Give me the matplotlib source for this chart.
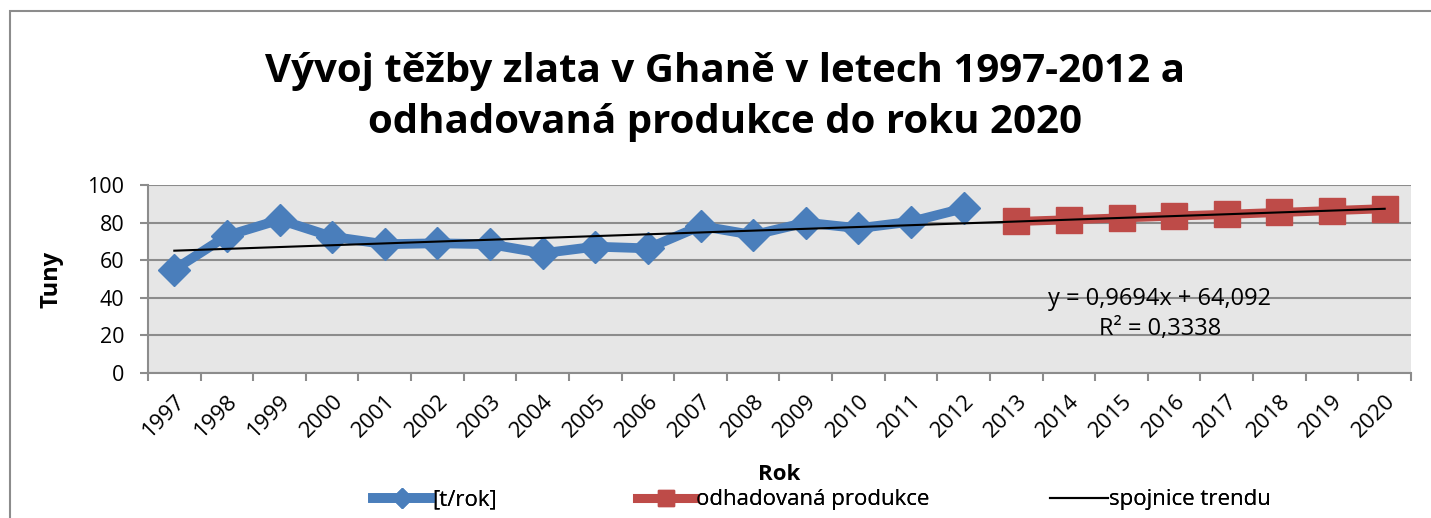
import matplotlib
matplotlib.use("Agg")
import matplotlib.pyplot as plt
from matplotlib.patches import Rectangle
import numpy as np

years = [str(y) for y in range(1997, 2021)]
hist_years = [str(y) for y in range(1997, 2013)]
hist_values = [55, 73, 81.5, 72.5, 68.5, 69, 68.5, 63.7, 67.2, 66.3, 78.2, 73.4, 80, 77, 80.5, 87.6]
proj_years = [str(y) for y in range(2013, 2021)]
proj_values = [80.6, 81.5, 82.5, 83.5, 84.4, 85.4, 86.4, 87.4]
trend_slope = 0.9694
trend_intercept = 64.092
trend_r2 = 0.3338
y_ticks = [0, 20, 40, 60, 80, 100]

title = "Vývoj těžby zlata v Ghaně v letech 1997-2012 a\nodhadovaná produkce do roku 2020"

plt.rcParams['font.family'] = ['Open Sans', 'DejaVu Sans']

W, H = 1431, 518
fig = plt.figure(figsize=(W / 100, H / 100), dpi=100)
fig.patch.set_facecolor('white')

# outer chart frame
fig.patches.append(Rectangle((10 / W, -0.1), 1.2, 1 - 11 / H + 0.1, transform=fig.transFigure,
                             fill=False, edgecolor='#8c8c8c', linewidth=1.5))

left, right, top, bottom = 148, 1411, 185, 373
ax = fig.add_axes([left / W, 1 - bottom / H, (right - left) / W, (bottom - top) / H])
ax.set_facecolor('#e6e6e6')

x_all = np.arange(len(years))
idx = {y: i for i, y in enumerate(years)}
hx = [idx[y] for y in hist_years]
px = [idx[y] for y in proj_years]

h1, = ax.plot(hx, hist_values, color='#4a7ebb', linewidth=7, marker='D', markersize=16,
              markeredgecolor='#4a7ebb', solid_joinstyle='round', zorder=3, label='[t/rok]')
h2, = ax.plot(px, proj_values, color='#be4b48', linewidth=6.5, marker='s', markersize=18.5,
              markeredgecolor='#be4b48', zorder=3, label='odhadovaná produkce')
tx = x_all + 1
h3, = ax.plot(x_all, trend_slope * tx + trend_intercept, color='black', linewidth=1.5, zorder=4,
              label='spojnice trendu')

ax.set_xlim(-0.5, len(years) - 0.5)
ax.set_ylim(0, 100)
ax.set_yticks(y_ticks)
ax.yaxis.grid(True, color='#8c8c8c', linewidth=1.5)
ax.set_axisbelow(True)
ax.set_xticks(np.arange(len(years) + 1) - 0.5, minor=False)
ax.set_xticklabels([])
ax.set_xticks(x_all, minor=True)
ax.set_xticklabels(years, minor=True, rotation=45, ha='right', rotation_mode='anchor',
                   fontsize=16)
ax.tick_params(axis='x', which='minor', length=0, pad=13)
ax.tick_params(axis='x', which='major', length=6, color='#8c8c8c', width=1.5)
ax.tick_params(axis='y', length=6, color='#8c8c8c', width=1.5, labelsize=15.5, pad=11)
for s in ['top', 'right']:
    ax.spines[s].set_visible(False)
for s in ['left', 'bottom']:
    ax.spines[s].set_color('#8c8c8c')
    ax.spines[s].set_linewidth(1.5)

ax.set_ylabel('Tuny', fontsize=17, fontweight='bold', labelpad=17)

ax.text(1160 / W, 1 - 314 / H, "y = 0,9694x + 64,092\nR² = 0,3338", transform=fig.transFigure,
        ha='center', va='center', fontsize=17, linespacing=1.35)

fig.text(725 / W, 1 - 97 / H, title, ha='center', va='center', fontsize=29,
         fontweight='bold', linespacing=1.42)
fig.text(779 / W, 1 - 475 / H, "Rok", ha='center', va='center', fontsize=16, fontweight='bold')

leg_y = 1 - 500 / H
for h, xl in [(h1, 373), (h2, 637), (h3, 1050)]:
    lg = fig.legend(handles=[h], loc='center left', bbox_to_anchor=(xl / W, leg_y), frameon=False,
                    fontsize=16, handlelength=2.6, handletextpad=0.05, borderpad=0,
                    borderaxespad=0, markerscale=0.65)
    fig.add_artist(lg)

fig.savefig('out.png', dpi=100)
